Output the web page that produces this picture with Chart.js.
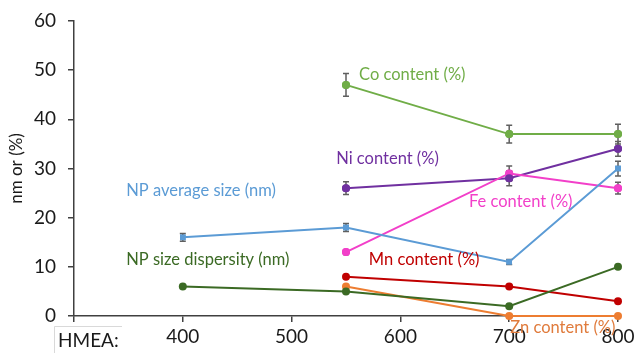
<!DOCTYPE html>
<html>
<head>
<meta charset="utf-8">
<script src="https://cdn.jsdelivr.net/npm/chart.js@4.4.1/dist/chart.umd.min.js"></script>
<style>
  html, body { margin: 0; padding: 0; background: #ffffff; }
  #wrap { width: 636px; height: 353px; position: relative; }
</style>
</head>
<body>
<div id="wrap"><canvas id="c" width="636" height="353"></canvas></div>
<script>
// HMEA annealing temperature on the x axis
const hmea = [400, 550, 700, 800];

// Series values (nm or %), null where not measured
const npAvgSize    = [16, 18, 11, 30];
const npAvgSizeErr = [0.8, 0.8, 0.5, 1.5];
const npDispersity = [6, 5, 2, 10];
const coContent    = [null, 47, 37, 37];
const coErr        = [null, 2.3, 1.8, 2.0];
const niContent    = [null, 26, 28, 34];
const niErr        = [null, 1.3, 1.5, 1.5];
const feContent    = [null, 13, 29, 26];
const feErr        = [null, 0.5, 1.5, 1.2];
const mnContent    = [null, 8, 6, 3];
const znContent    = [null, 6, 0, 0];

// Axis ticks
const xTicks = [300, 400, 500, 600, 700, 800];
const yTicks = [0, 10, 20, 30, 40, 50, 60];

const FONT = 'Lato, "Open Sans", sans-serif';

function pts(vals) {
  const out = [];
  vals.forEach((v, i) => { if (v !== null) out.push({ x: hmea[i], y: v }); });
  return out;
}

function series(label, vals, color, err, shape) {
  return {
    label: label,
    data: pts(vals),
    errs: err ? err.filter((e, i) => vals[i] !== null) : null,
    borderColor: color,
    backgroundColor: color,
    borderWidth: 2,
    pointRadius: 4,
    pointStyle: shape || 'circle',
    pointBorderWidth: 0,
    tension: 0,
    clip: false
  };
}

const datasets = [
  series('NP size dispersity (nm)', npDispersity, '#3b6a24'),
  series('Mn content (%)', mnContent, '#c00000'),
  series('Zn content (%)', znContent, '#ed7d31'),
  series('NP average size (nm)', npAvgSize, '#5b9bd5', npAvgSizeErr, 'rect'),
  series('Fe content (%)', feContent, '#f23fc9', feErr),
  series('Ni content (%)', niContent, '#7030a0', niErr),
  series('Co content (%)', coContent, '#70ad47', coErr)
];

// In-plot series labels, anchored in data coordinates (left edge, vertical middle)
const seriesLabels = [
  { text: 'Co content (%)',          x: 562, y: 49.1, color: '#70ad47' },
  { text: 'Ni content (%)',          x: 541, y: 32.1, color: '#7030a0' },
  { text: 'NP average size (nm)',    x: 348, y: 25.4, color: '#5b9bd5' },
  { text: 'Fe content (%)',          x: 663, y: 23.2, color: '#f23fc9' },
  { text: 'NP size dispersity (nm)', x: 348, y: 11.4, color: '#3b6a24' },
  { text: 'Mn content (%)',          x: 571, y: 11.4, color: '#c00000' },
  { text: 'Zn content (%)',          x: 701, y: -2.4, color: '#e07b3c' }
];

// Vertical error bars with caps
const errorBars = {
  id: 'errorBars',
  afterDatasetsDraw(chart) {
    const { ctx, scales: { x, y } } = chart;
    ctx.save();
    ctx.strokeStyle = '#5f5f5f';
    ctx.lineWidth = 1.5;
    chart.data.datasets.forEach(ds => {
      if (!ds.errs) return;
      ds.data.forEach((p, i) => {
        const e = ds.errs[i];
        if (e == null) return;
        const px = x.getPixelForValue(p.x);
        const top = y.getPixelForValue(p.y + e);
        const bot = y.getPixelForValue(p.y - e);
        ctx.beginPath();
        ctx.moveTo(px, top); ctx.lineTo(px, bot);
        ctx.moveTo(px - 3, top); ctx.lineTo(px + 3, top);
        ctx.moveTo(px - 3, bot); ctx.lineTo(px + 3, bot);
        ctx.stroke();
      });
    });
    ctx.restore();
  }
};

// Redraw the markers on top of the error bars
const markersOnTop = {
  id: 'markersOnTop',
  afterDatasetsDraw(chart) {
    const ctx = chart.ctx;
    chart.data.datasets.forEach((ds, di) => {
      if (!ds.errs) return;
      const meta = chart.getDatasetMeta(di);
      meta.data.forEach(pt => pt.draw(ctx, chart.chartArea));
    });
  }
};

const textLabels = {
  id: 'textLabels',
  afterDraw(chart) {
    const { ctx, scales: { x, y } } = chart;
    ctx.save();
    ctx.font = '16.5px ' + FONT;
    ctx.textBaseline = 'middle';
    ctx.textAlign = 'left';
    seriesLabels.forEach(l => {
      ctx.fillStyle = l.color;
      ctx.fillText(l.text, x.getPixelForValue(l.x), y.getPixelForValue(l.y));
    });
    // "HMEA:" caption box below the start of the x axis
    const left = x.left - 20;
    const top = y.bottom + 10;
    ctx.strokeStyle = '#d9d9d9';
    ctx.lineWidth = 1;
    ctx.beginPath();
    ctx.moveTo(left + 0.5, chart.height);
    ctx.lineTo(left + 0.5, top + 0.5);
    ctx.lineTo(left + 68, top + 0.5);
    ctx.stroke();
    ctx.fillStyle = '#1a1a1a';
    ctx.font = '19px ' + FONT;
    ctx.fillText('HMEA:', left + 4, top + 15);
    ctx.restore();
  }
};

new Chart(document.getElementById('c'), {
  type: 'line',
  data: { datasets: datasets },
  plugins: [errorBars, markersOnTop, textLabels],
  options: {
    responsive: false,
    animation: false,
    events: [],
    layout: { padding: { top: 21, right: 18, left: 0, bottom: 0 } },
    plugins: { legend: { display: false }, tooltip: { enabled: false } },
    scales: {
      x: {
        type: 'linear',
        min: 300, max: 800,
        afterBuildTicks(scale) { scale.ticks = xTicks.map(v => ({ value: v })); },
        afterFit(scale) { scale.height = 37; scale.paddingLeft = 0; scale.paddingRight = 0; },
        ticks: {
          color: '#1a1a1a',
          font: { family: FONT, size: 19 },
          padding: 3,
          maxRotation: 0,
          callback: v => (v === 300 ? '' : String(v))
        },
        grid: { drawOnChartArea: false, drawTicks: true, tickLength: 6, color: '#404040', lineWidth: 1.5 },
        border: { color: '#404040', width: 1.5 }
      },
      y: {
        min: 0, max: 60,
        afterBuildTicks(scale) { scale.ticks = yTicks.map(v => ({ value: v })); },
        afterFit(scale) { scale.width = 74; scale.paddingTop = 0; scale.paddingBottom = 0; },
        title: {
          display: true,
          text: 'nm or (%)',
          color: '#1a1a1a',
          font: { family: FONT, size: 17 },
          padding: { top: 6, bottom: 0 }
        },
        ticks: {
          color: '#1a1a1a',
          font: { family: FONT, size: 19 },
          padding: 12
        },
        grid: { drawOnChartArea: false, drawTicks: true, tickLength: 6, color: '#404040', lineWidth: 1.5 },
        border: { color: '#404040', width: 1.5 }
      }
    }
  }
});
</script>
</body>
</html>
